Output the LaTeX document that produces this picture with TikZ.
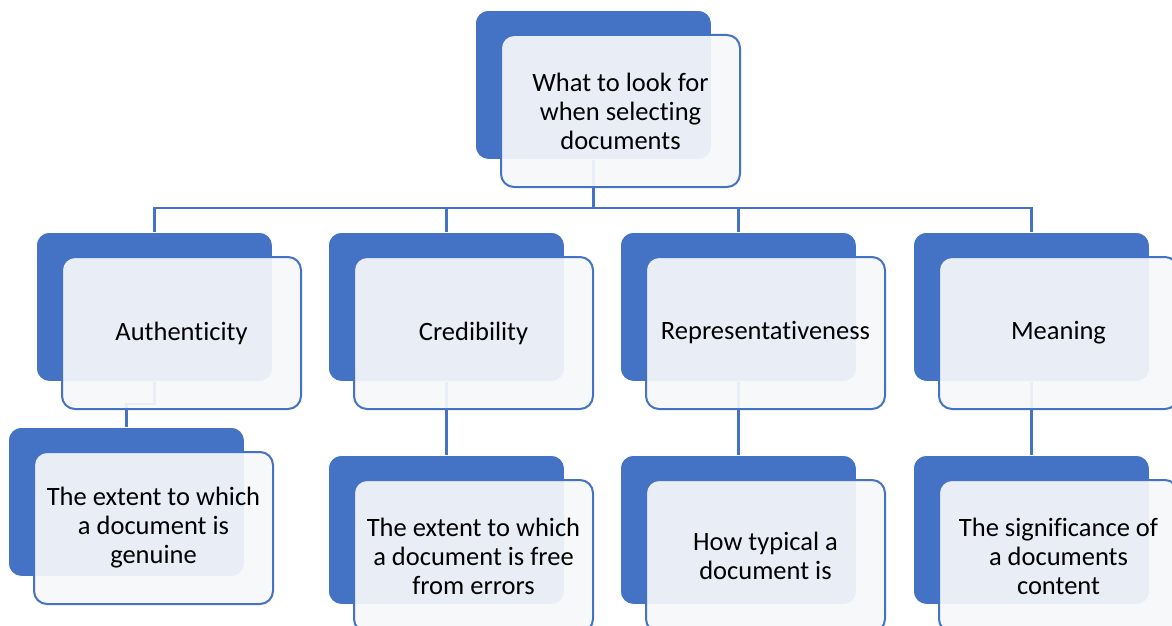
\documentclass[tikz,border=0pt]{standalone}
\usepackage{fontspec}
\setmainfont{Carlito}[Ligatures=NoCommon]
\begin{document}
\definecolor{accent}{HTML}{4472C4}
\definecolor{cardfill}{HTML}{F6F7F9}
\begin{tikzpicture}[x=1pt,y=-1pt,
  backcard/.style={anchor=north west, fill=accent, draw=white, line width=0.8pt,
    rounded corners=13pt, minimum width=236pt, minimum height=149pt, inner sep=0pt},
  frontcard/.style={anchor=north west, fill=cardfill, fill opacity=0.93, text opacity=1,
    draw=accent, line width=2pt, rounded corners=13pt,
    minimum width=239pt, minimum height=152pt, inner sep=0pt, align=center,
    font=\fontsize{26.5}{29}\selectfont},
  conn/.style={draw=accent, line width=2.5pt}]
\useasboundingbox (0,0) rectangle (1172,626);
\clip (0,0) rectangle (1172,626);

% card positions (back cards)
\coordinate (topP) at (475,10);
\coordinate (authP) at (36,232);
\coordinate (credP) at (328,232);
\coordinate (reprP) at (620,232);
\coordinate (meanP) at (913,232);
\coordinate (genP) at (8,427);
\coordinate (errP) at (328,455);
\coordinate (typP) at (620,455);
\coordinate (sigP) at (913,455);

% invisible copies of the back cards, so connectors can be routed first
\foreach \n in {top,auth,cred,repr,mean,gen,err,typ,sig}{
  \path (\n P) node[backcard, fill=none, draw=none] (\n b) {};
}

% connectors
\coordinate (bus) at (0,208);
\coordinate (elbow) at (0,404);
\draw[conn] (topb.south) -- (topb.south |- bus);
\draw[conn] (authb.north) -- (authb.north |- bus) -- (meanb.north |- bus) -- (meanb.north);
\draw[conn] (credb.north) -- (credb.north |- bus);
\draw[conn] (reprb.north) -- (reprb.north |- bus);
\draw[conn] (authb.south) -- (authb.south |- elbow) -| (genb.north);
\draw[conn] (credb.south) -- (errb.north);
\draw[conn] (reprb.south) -- (typb.north);
\draw[conn] (meanb.south) -- (sigb.north);

% cards
\foreach \n/\t in {
  top/{What to look for\\when selecting\\documents},
  auth/{Authenticity},
  cred/{Credibility},
  repr/{Representativeness},
  mean/{Meaning},
  gen/{The extent to which\\a document is\\genuine},
  err/{The extent to which\\a document is free\\from errors},
  typ/{How typical a\\document is},
  sig/{The significance of\\a documents\\content}}{
  \path (\n P) node[backcard] (\n back) {};
  \path (\n P) ++(25,24) node[frontcard] (\n) {\t};
}
\end{tikzpicture}
\end{document}
